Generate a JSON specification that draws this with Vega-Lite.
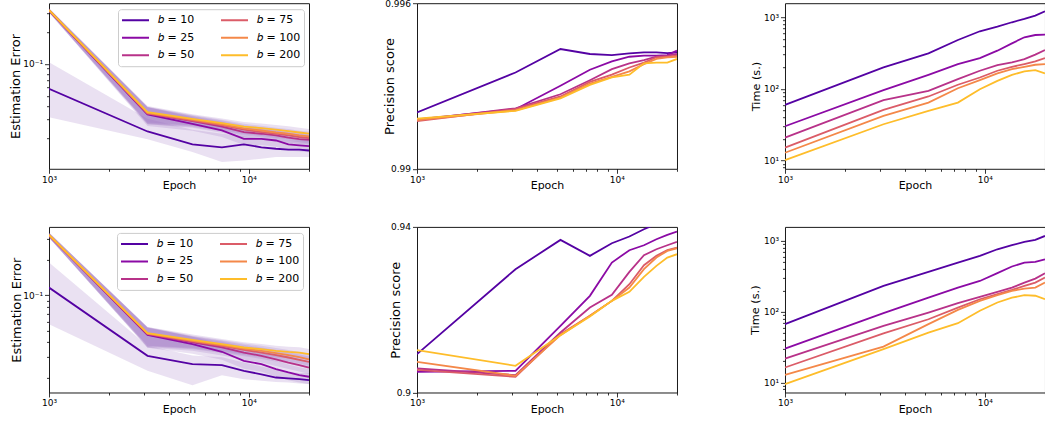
{
  "$schema": "https://vega.github.io/schema/vega-lite/v6.json",
  "padding": {"left": 9, "top": -1.8, "right": 0, "bottom": 0},
  "background": "white",
  "columns": 3,
  "spacing": {"row": 57.7, "column": 108},
  "bounds": "flush",
  "resolve": {"scale": {"color": "independent"}},
  "datasets": {
    "err1": [
      {"b":10,"e":1000,"v":0.0582,"lo":0.0315,"hi":0.1035},{"b":10,"e":3111,"v":0.0231,"lo":0.0195,"hi":0.0304},{"b":10,"e":5222,"v":0.0175,"lo":0.0148,"hi":0.024},{"b":10,"e":7333,"v":0.0164,"lo":0.0119,"hi":0.022},{"b":10,"e":9444,"v":0.0175,"lo":0.0123,"hi":0.021},{"b":10,"e":11556,"v":0.0164,"lo":0.0128,"hi":0.020},{"b":10,"e":13667,"v":0.0159,"lo":0.0133,"hi":0.0195},{"b":10,"e":15778,"v":0.0156,"lo":0.0133,"hi":0.019},{"b":10,"e":17889,"v":0.0156,"lo":0.0133,"hi":0.019},{"b":10,"e":20000,"v":0.0153,"lo":0.0133,"hi":0.019},
      {"b":25,"e":1000,"v":0.317,"lo":0.303,"hi":0.330},{"b":25,"e":3111,"v":0.0334,"lo":0.026,"hi":0.039},{"b":25,"e":5222,"v":0.0273,"lo":0.0235,"hi":0.0315},{"b":25,"e":7333,"v":0.0236,"lo":0.0205,"hi":0.027},{"b":25,"e":9444,"v":0.0197,"lo":0.0172,"hi":0.0225},{"b":25,"e":11556,"v":0.0197,"lo":0.0172,"hi":0.0222},{"b":25,"e":13667,"v":0.0190,"lo":0.0166,"hi":0.0214},{"b":25,"e":15778,"v":0.0175,"lo":0.0153,"hi":0.0198},{"b":25,"e":17889,"v":0.0171,"lo":0.0150,"hi":0.0193},{"b":25,"e":20000,"v":0.0168,"lo":0.0147,"hi":0.019},
      {"b":50,"e":1000,"v":0.317,"lo":0.303,"hi":0.330},{"b":50,"e":3111,"v":0.0339,"lo":0.027,"hi":0.039},{"b":50,"e":5222,"v":0.0289,"lo":0.025,"hi":0.0322},{"b":50,"e":7333,"v":0.0257,"lo":0.0225,"hi":0.0285},{"b":50,"e":9444,"v":0.0228,"lo":0.0203,"hi":0.0252},{"b":50,"e":11556,"v":0.0220,"lo":0.0196,"hi":0.0243},{"b":50,"e":13667,"v":0.0212,"lo":0.019,"hi":0.0235},{"b":50,"e":15778,"v":0.0202,"lo":0.0181,"hi":0.0224},{"b":50,"e":17889,"v":0.0196,"lo":0.0176,"hi":0.0218},{"b":50,"e":20000,"v":0.0193,"lo":0.0173,"hi":0.0214},
      {"b":75,"e":1000,"v":0.318,"lo":0.304,"hi":0.331},{"b":75,"e":3111,"v":0.0341,"lo":0.027,"hi":0.0392},{"b":75,"e":5222,"v":0.0293,"lo":0.0255,"hi":0.0325},{"b":75,"e":7333,"v":0.0265,"lo":0.0232,"hi":0.0293},{"b":75,"e":9444,"v":0.0240,"lo":0.0212,"hi":0.0265},{"b":75,"e":11556,"v":0.0228,"lo":0.0203,"hi":0.0252},{"b":75,"e":13667,"v":0.0220,"lo":0.0196,"hi":0.0243},{"b":75,"e":15778,"v":0.0212,"lo":0.0189,"hi":0.0235},{"b":75,"e":17889,"v":0.0205,"lo":0.0183,"hi":0.0227},{"b":75,"e":20000,"v":0.0200,"lo":0.0178,"hi":0.0222},
      {"b":100,"e":1000,"v":0.319,"lo":0.305,"hi":0.332},{"b":100,"e":3111,"v":0.0346,"lo":0.0275,"hi":0.0395},{"b":100,"e":5222,"v":0.0298,"lo":0.026,"hi":0.033},{"b":100,"e":7333,"v":0.0269,"lo":0.0237,"hi":0.0298},{"b":100,"e":9444,"v":0.0247,"lo":0.0219,"hi":0.0273},{"b":100,"e":11556,"v":0.0236,"lo":0.021,"hi":0.0261},{"b":100,"e":13667,"v":0.0226,"lo":0.0201,"hi":0.025},{"b":100,"e":15778,"v":0.0220,"lo":0.0196,"hi":0.0244},{"b":100,"e":17889,"v":0.0212,"lo":0.0189,"hi":0.0235},{"b":100,"e":20000,"v":0.0208,"lo":0.0185,"hi":0.0231},
      {"b":200,"e":1000,"v":0.320,"lo":0.306,"hi":0.333},{"b":200,"e":3111,"v":0.0351,"lo":0.028,"hi":0.040},{"b":200,"e":5222,"v":0.0304,"lo":0.0265,"hi":0.0336},{"b":200,"e":7333,"v":0.0277,"lo":0.0245,"hi":0.0306},{"b":200,"e":9444,"v":0.0257,"lo":0.0228,"hi":0.0284},{"b":200,"e":11556,"v":0.0248,"lo":0.022,"hi":0.0274},{"b":200,"e":13667,"v":0.0240,"lo":0.0213,"hi":0.0266},{"b":200,"e":15778,"v":0.0233,"lo":0.0207,"hi":0.0258},{"b":200,"e":17889,"v":0.0226,"lo":0.0201,"hi":0.025},{"b":200,"e":20000,"v":0.0220,"lo":0.0196,"hi":0.0244}
    ],
    "err2": [
      {"b":10,"e":1000,"v":0.116,"lo":0.0569,"hi":0.189},{"b":10,"e":3111,"v":0.0308,"lo":0.023,"hi":0.0374},{"b":10,"e":5222,"v":0.0262,"lo":0.0174,"hi":0.031},{"b":10,"e":7333,"v":0.0257,"lo":0.0211,"hi":0.030},{"b":10,"e":9444,"v":0.0230,"lo":0.0195,"hi":0.027},{"b":10,"e":11556,"v":0.0215,"lo":0.019,"hi":0.025},{"b":10,"e":13667,"v":0.0202,"lo":0.0185,"hi":0.0235},{"b":10,"e":15778,"v":0.0199,"lo":0.0183,"hi":0.0225},{"b":10,"e":17889,"v":0.0196,"lo":0.018,"hi":0.022},{"b":10,"e":20000,"v":0.0192,"lo":0.0178,"hi":0.022},
      {"b":25,"e":1000,"v":0.321,"lo":0.306,"hi":0.336},{"b":25,"e":3111,"v":0.0463,"lo":0.036,"hi":0.053},{"b":25,"e":5222,"v":0.0386,"lo":0.032,"hi":0.0445},{"b":25,"e":7333,"v":0.0333,"lo":0.0285,"hi":0.0385},{"b":25,"e":9444,"v":0.0279,"lo":0.024,"hi":0.0325},{"b":25,"e":11556,"v":0.0262,"lo":0.0226,"hi":0.0305},{"b":25,"e":13667,"v":0.0238,"lo":0.0205,"hi":0.0278},{"b":25,"e":15778,"v":0.0223,"lo":0.0192,"hi":0.026},{"b":25,"e":17889,"v":0.0212,"lo":0.0183,"hi":0.0247},{"b":25,"e":20000,"v":0.0205,"lo":0.0177,"hi":0.0238},
      {"b":50,"e":1000,"v":0.321,"lo":0.306,"hi":0.336},{"b":50,"e":3111,"v":0.0469,"lo":0.036,"hi":0.0533},{"b":50,"e":5222,"v":0.0399,"lo":0.034,"hi":0.0445},{"b":50,"e":7333,"v":0.0362,"lo":0.031,"hi":0.0405},{"b":50,"e":9444,"v":0.0328,"lo":0.0286,"hi":0.0368},{"b":50,"e":11556,"v":0.0308,"lo":0.027,"hi":0.0345},{"b":50,"e":13667,"v":0.0288,"lo":0.0253,"hi":0.0322},{"b":50,"e":15778,"v":0.0270,"lo":0.0238,"hi":0.0302},{"b":50,"e":17889,"v":0.0257,"lo":0.0227,"hi":0.0288},{"b":50,"e":20000,"v":0.0245,"lo":0.0216,"hi":0.0275},
      {"b":75,"e":1000,"v":0.321,"lo":0.306,"hi":0.336},{"b":75,"e":3111,"v":0.0472,"lo":0.0365,"hi":0.0535},{"b":75,"e":5222,"v":0.0407,"lo":0.035,"hi":0.045},{"b":75,"e":7333,"v":0.0373,"lo":0.0325,"hi":0.0412},{"b":75,"e":9444,"v":0.0346,"lo":0.0305,"hi":0.0382},{"b":75,"e":11556,"v":0.0328,"lo":0.029,"hi":0.0362},{"b":75,"e":13667,"v":0.0312,"lo":0.0276,"hi":0.0345},{"b":75,"e":15778,"v":0.0298,"lo":0.0264,"hi":0.033},{"b":75,"e":17889,"v":0.0285,"lo":0.0252,"hi":0.0316},{"b":75,"e":20000,"v":0.0274,"lo":0.0242,"hi":0.0304},
      {"b":100,"e":1000,"v":0.322,"lo":0.307,"hi":0.337},{"b":100,"e":3111,"v":0.0475,"lo":0.037,"hi":0.0538},{"b":100,"e":5222,"v":0.0412,"lo":0.0355,"hi":0.0455},{"b":100,"e":7333,"v":0.0379,"lo":0.033,"hi":0.0418},{"b":100,"e":9444,"v":0.0355,"lo":0.0313,"hi":0.0392},{"b":100,"e":11556,"v":0.0339,"lo":0.0299,"hi":0.0375},{"b":100,"e":13667,"v":0.0324,"lo":0.0286,"hi":0.0358},{"b":100,"e":15778,"v":0.0312,"lo":0.0276,"hi":0.0345},{"b":100,"e":17889,"v":0.0300,"lo":0.0265,"hi":0.0332},{"b":100,"e":20000,"v":0.0288,"lo":0.0254,"hi":0.0319},
      {"b":200,"e":1000,"v":0.323,"lo":0.308,"hi":0.338},{"b":200,"e":3111,"v":0.0478,"lo":0.0375,"hi":0.054},{"b":200,"e":5222,"v":0.0420,"lo":0.036,"hi":0.0465},{"b":200,"e":7333,"v":0.0386,"lo":0.0338,"hi":0.0427},{"b":200,"e":9444,"v":0.0362,"lo":0.032,"hi":0.04},{"b":200,"e":11556,"v":0.0350,"lo":0.031,"hi":0.0387},{"b":200,"e":13667,"v":0.0339,"lo":0.03,"hi":0.0375},{"b":200,"e":15778,"v":0.0332,"lo":0.0294,"hi":0.0367},{"b":200,"e":17889,"v":0.0328,"lo":0.029,"hi":0.0363},{"b":200,"e":20000,"v":0.0318,"lo":0.0281,"hi":0.0352}
    ],
    "prec1": [
      {"b":10,"e":1000,"v":0.99204},{"b":10,"e":3111,"v":0.99349},{"b":10,"e":5222,"v":0.99434},{"b":10,"e":7333,"v":0.99416},{"b":10,"e":9444,"v":0.99412},{"b":10,"e":11556,"v":0.99418},{"b":10,"e":13667,"v":0.99422},{"b":10,"e":15778,"v":0.99422},{"b":10,"e":17889,"v":0.99419},{"b":10,"e":20000,"v":0.99422},
      {"b":25,"e":1000,"v":0.99179},{"b":25,"e":3111,"v":0.99216},{"b":25,"e":5222,"v":0.99301},{"b":25,"e":7333,"v":0.99359},{"b":25,"e":9444,"v":0.99389},{"b":25,"e":11556,"v":0.99406},{"b":25,"e":13667,"v":0.9941},{"b":25,"e":15778,"v":0.9941},{"b":25,"e":17889,"v":0.99412},{"b":25,"e":20000,"v":0.99428},
      {"b":50,"e":1000,"v":0.99176},{"b":50,"e":3111,"v":0.99219},{"b":50,"e":5222,"v":0.9927},{"b":50,"e":7333,"v":0.99321},{"b":50,"e":9444,"v":0.99361},{"b":50,"e":11556,"v":0.99382},{"b":50,"e":13667,"v":0.99394},{"b":50,"e":15778,"v":0.99406},{"b":50,"e":17889,"v":0.9941},{"b":50,"e":20000,"v":0.99416},
      {"b":75,"e":1000,"v":0.99173},{"b":75,"e":3111,"v":0.99216},{"b":75,"e":5222,"v":0.99262},{"b":75,"e":7333,"v":0.99315},{"b":75,"e":9444,"v":0.99341},{"b":75,"e":11556,"v":0.99367},{"b":75,"e":13667,"v":0.99385},{"b":75,"e":15778,"v":0.99404},{"b":75,"e":17889,"v":0.99406},{"b":75,"e":20000,"v":0.9941},
      {"b":100,"e":1000,"v":0.99176},{"b":100,"e":3111,"v":0.99212},{"b":100,"e":5222,"v":0.99258},{"b":100,"e":7333,"v":0.99309},{"b":100,"e":9444,"v":0.99333},{"b":100,"e":11556,"v":0.99353},{"b":100,"e":13667,"v":0.99379},{"b":100,"e":15778,"v":0.99398},{"b":100,"e":17889,"v":0.99404},{"b":100,"e":20000,"v":0.99406},
      {"b":200,"e":1000,"v":0.99182},{"b":200,"e":3111,"v":0.9921},{"b":200,"e":5222,"v":0.99255},{"b":200,"e":7333,"v":0.99304},{"b":200,"e":9444,"v":0.99331},{"b":200,"e":11556,"v":0.99341},{"b":200,"e":13667,"v":0.99382},{"b":200,"e":15778,"v":0.99385},{"b":200,"e":17889,"v":0.99385},{"b":200,"e":20000,"v":0.99398}
    ],
    "prec2": [
      {"b":10,"e":1000,"v":0.90926},{"b":10,"e":3111,"v":0.92978},{"b":10,"e":5222,"v":0.93686},{"b":10,"e":7333,"v":0.933},{"b":10,"e":9444,"v":0.93606},{"b":10,"e":11556,"v":0.93767},{"b":10,"e":13667,"v":0.93944},{"b":10,"e":15778,"v":0.9407},{"b":10,"e":17889,"v":0.9415},{"b":10,"e":20000,"v":0.9422},
      {"b":25,"e":1000,"v":0.90499},{"b":25,"e":3111,"v":0.90523},{"b":25,"e":5222,"v":0.9161},{"b":25,"e":7333,"v":0.92334},{"b":25,"e":9444,"v":0.93139},{"b":25,"e":11556,"v":0.93437},{"b":25,"e":13667,"v":0.93557},{"b":25,"e":15778,"v":0.93702},{"b":25,"e":17889,"v":0.93807},{"b":25,"e":20000,"v":0.93887},
      {"b":50,"e":1000,"v":0.9058},{"b":50,"e":3111,"v":0.90419},{"b":50,"e":5222,"v":0.91449},{"b":50,"e":7333,"v":0.92052},{"b":50,"e":9444,"v":0.92358},{"b":50,"e":11556,"v":0.92913},{"b":50,"e":13667,"v":0.93316},{"b":50,"e":15778,"v":0.93461},{"b":50,"e":17889,"v":0.93557},{"b":50,"e":20000,"v":0.93638},
      {"b":75,"e":1000,"v":0.90547},{"b":75,"e":3111,"v":0.90378},{"b":75,"e":5222,"v":0.91408},{"b":75,"e":7333,"v":0.91851},{"b":75,"e":9444,"v":0.92213},{"b":75,"e":11556,"v":0.92616},{"b":75,"e":13667,"v":0.93074},{"b":75,"e":15778,"v":0.933},{"b":75,"e":17889,"v":0.93437},{"b":75,"e":20000,"v":0.93501},
      {"b":100,"e":1000,"v":0.90741},{"b":100,"e":3111,"v":0.90403},{"b":100,"e":5222,"v":0.91384},{"b":100,"e":7333,"v":0.91851},{"b":100,"e":9444,"v":0.92213},{"b":100,"e":11556,"v":0.92535},{"b":100,"e":13667,"v":0.92978},{"b":100,"e":15778,"v":0.9326},{"b":100,"e":17889,"v":0.93421},{"b":100,"e":20000,"v":0.93485},
      {"b":200,"e":1000,"v":0.91022},{"b":200,"e":3111,"v":0.90644},{"b":200,"e":5222,"v":0.91384},{"b":200,"e":7333,"v":0.91835},{"b":200,"e":9444,"v":0.92213},{"b":200,"e":11556,"v":0.92431},{"b":200,"e":13667,"v":0.92793},{"b":200,"e":15778,"v":0.93058},{"b":200,"e":17889,"v":0.9326},{"b":200,"e":20000,"v":0.9334}
    ],
    "time1": [
      {"b":10,"e":1000,"v":59.7},{"b":10,"e":3111,"v":199},{"b":10,"e":5222,"v":313},{"b":10,"e":7333,"v":481},{"b":10,"e":9444,"v":637},{"b":10,"e":11556,"v":740},{"b":10,"e":13667,"v":851},{"b":10,"e":15778,"v":948},{"b":10,"e":17889,"v":1055},{"b":10,"e":20000,"v":1214},
      {"b":25,"e":1000,"v":30.0},{"b":25,"e":3111,"v":95.7},{"b":25,"e":5222,"v":157},{"b":25,"e":7333,"v":222},{"b":25,"e":9444,"v":269},{"b":25,"e":11556,"v":341},{"b":25,"e":13667,"v":432},{"b":25,"e":15778,"v":525},{"b":25,"e":17889,"v":565},{"b":25,"e":20000,"v":571},
      {"b":50,"e":1000,"v":20.8},{"b":50,"e":3111,"v":69.3},{"b":50,"e":5222,"v":93.8},{"b":50,"e":7333,"v":137},{"b":50,"e":9444,"v":179},{"b":50,"e":11556,"v":215},{"b":50,"e":13667,"v":234},{"b":50,"e":15778,"v":260},{"b":50,"e":17889,"v":300},{"b":50,"e":20000,"v":348},
      {"b":75,"e":1000,"v":15.1},{"b":75,"e":3111,"v":50.8},{"b":75,"e":5222,"v":78.2},{"b":75,"e":7333,"v":114},{"b":75,"e":9444,"v":144},{"b":75,"e":11556,"v":179},{"b":75,"e":13667,"v":203},{"b":75,"e":15778,"v":222},{"b":75,"e":17889,"v":242},{"b":75,"e":20000,"v":269},
      {"b":100,"e":1000,"v":12.8},{"b":100,"e":3111,"v":41.8},{"b":100,"e":5222,"v":64.3},{"b":100,"e":7333,"v":102},{"b":100,"e":9444,"v":132},{"b":100,"e":11556,"v":164},{"b":100,"e":13667,"v":189},{"b":100,"e":15778,"v":203},{"b":100,"e":17889,"v":217},{"b":100,"e":20000,"v":222},
      {"b":200,"e":1000,"v":10.1},{"b":200,"e":3111,"v":32.0},{"b":200,"e":5222,"v":49.2},{"b":200,"e":7333,"v":64.3},{"b":200,"e":9444,"v":98.8},{"b":200,"e":11556,"v":129},{"b":200,"e":13667,"v":157},{"b":200,"e":15778,"v":175},{"b":200,"e":17889,"v":183},{"b":200,"e":20000,"v":164}
    ],
    "time2": [
      {"b":10,"e":1000,"v":66.7},{"b":10,"e":3111,"v":232},{"b":10,"e":5222,"v":365},{"b":10,"e":7333,"v":494},{"b":10,"e":9444,"v":614},{"b":10,"e":11556,"v":762},{"b":10,"e":13667,"v":869},{"b":10,"e":15778,"v":968},{"b":10,"e":17889,"v":1033},{"b":10,"e":20000,"v":1177},
      {"b":25,"e":1000,"v":30.2},{"b":25,"e":3111,"v":95.3},{"b":25,"e":5222,"v":158},{"b":25,"e":7333,"v":219},{"b":25,"e":9444,"v":272},{"b":25,"e":11556,"v":350},{"b":25,"e":13667,"v":435},{"b":25,"e":15778,"v":494},{"b":25,"e":17889,"v":505},{"b":25,"e":20000,"v":551},
      {"b":50,"e":1000,"v":21.8},{"b":50,"e":3111,"v":63.1},{"b":50,"e":5222,"v":97.3},{"b":50,"e":7333,"v":132},{"b":50,"e":9444,"v":162},{"b":50,"e":11556,"v":191},{"b":50,"e":13667,"v":219},{"b":50,"e":15778,"v":258},{"b":50,"e":17889,"v":294},{"b":50,"e":20000,"v":350},
      {"b":75,"e":1000,"v":16.3},{"b":75,"e":3111,"v":49.6},{"b":75,"e":5222,"v":78.3},{"b":75,"e":7333,"v":114},{"b":75,"e":9444,"v":150},{"b":75,"e":11556,"v":177},{"b":75,"e":13667,"v":203},{"b":75,"e":15778,"v":232},{"b":75,"e":17889,"v":258},{"b":75,"e":20000,"v":304},
      {"b":100,"e":1000,"v":12.8},{"b":100,"e":3111,"v":32.2},{"b":100,"e":5222,"v":66.7},{"b":100,"e":7333,"v":106},{"b":100,"e":9444,"v":142},{"b":100,"e":11556,"v":171},{"b":100,"e":13667,"v":197},{"b":100,"e":15778,"v":212},{"b":100,"e":17889,"v":219},{"b":100,"e":20000,"v":258},
      {"b":200,"e":1000,"v":9.46},{"b":200,"e":3111,"v":29.6},{"b":200,"e":5222,"v":50.8},{"b":200,"e":7333,"v":68.9},{"b":200,"e":9444,"v":103},{"b":200,"e":11556,"v":135},{"b":200,"e":13667,"v":158},{"b":200,"e":15778,"v":171},{"b":200,"e":17889,"v":168},{"b":200,"e":20000,"v":150}
    ]
  },
  "concat": [
    {
      "width": 260, "height": 165.6,
      "data": {"name": "err1"},
      "layer": [
        {"mark": {"type": "area", "clip": true, "color": "#9467bd", "opacity": 0.2},
         "encoding": {
           "x": {"field": "e", "type": "quantitative", "scale": {"type": "log", "domain": [1000, 20000], "nice": false},
                 "axis": {"title": "Epoch", "titleFontSize": 11, "titleY": 20, "titleBaseline": "alphabetic", "values": [1000,2000,3000,4000,5000,6000,7000,8000,9000,10000,20000], "labelExpr": "datum.value == 1000 ? '10³' : (datum.value == 10000 ? '10⁴' : '')", "tickSize": {"condition": {"test": "datum.value == 1000 || datum.value == 10000", "value": 4.5}, "value": 2.5}}},
           "y": {"field": "lo", "type": "quantitative", "scale": {"type": "log", "domain": [0.0103, 0.371], "nice": false},
                 "axis": {"title": "Estimation Error", "titleFontSize": 13, "titleX": -29.3, "titleBaseline": "alphabetic", "values": [0.02,0.03,0.04,0.05,0.06,0.07,0.08,0.09,0.1,0.2,0.3], "labelExpr": "datum.value == 0.1 ? '10⁻¹' : ''", "tickSize": {"condition": {"test": "datum.value == 0.1", "value": 4.5}, "value": 2.5}}},
           "y2": {"field": "hi"},
           "detail": {"field": "b", "type": "nominal"}
         }},
        {"mark": {"type": "line", "clip": true, "strokeWidth": 1.8},
         "encoding": {
           "x": {"field": "e", "type": "quantitative"},
           "y": {"field": "v", "type": "quantitative"},
           "color": {"field": "b", "type": "nominal", "scale": {"domain": [10,25,50,75,100,200], "range": ["#5402a3","#8b0aa5","#b83289","#db5c68","#f48849","#febd2a"]},
                     "legend": {"labelExpr": "'𝑏 = ' + datum.label"}}
         }}
      ]
    },
    {
      "width": 260, "height": 165.6,
      "data": {"name": "prec1"},
      "mark": {"type": "line", "clip": true, "strokeWidth": 1.8},
      "encoding": {
        "x": {"field": "e", "type": "quantitative", "scale": {"type": "log", "domain": [1000, 20000], "nice": false},
              "axis": {"title": "Epoch", "titleFontSize": 11, "titleY": 20, "titleBaseline": "alphabetic", "values": [1000,2000,3000,4000,5000,6000,7000,8000,9000,10000,20000], "labelExpr": "datum.value == 1000 ? '10³' : (datum.value == 10000 ? '10⁴' : '')", "tickSize": {"condition": {"test": "datum.value == 1000 || datum.value == 10000", "value": 4.5}, "value": 2.5}}},
        "y": {"field": "v", "type": "quantitative", "scale": {"domain": [0.99, 0.996], "nice": false, "zero": false},
              "axis": {"title": "Precision score", "titleFontSize": 13, "titleX": -24, "titleBaseline": "alphabetic", "values": [0.99, 0.996], "format": ".3~f", "tickSize": 4.5}},
        "color": {"field": "b", "type": "nominal", "scale": {"domain": [10,25,50,75,100,200], "range": ["#5402a3","#8b0aa5","#b83289","#db5c68","#f48849","#febd2a"]}, "legend": null}
      }
    },
    {
      "width": 260, "height": 165.6,
      "data": {"name": "time1"},
      "mark": {"type": "line", "clip": true, "strokeWidth": 1.8},
      "encoding": {
        "x": {"field": "e", "type": "quantitative", "scale": {"type": "log", "domain": [1000, 20000], "nice": false},
              "axis": {"title": "Epoch", "titleFontSize": 11, "titleY": 20, "titleBaseline": "alphabetic", "values": [1000,2000,3000,4000,5000,6000,7000,8000,9000,10000,20000], "labelExpr": "datum.value == 1000 ? '10³' : (datum.value == 10000 ? '10⁴' : '')", "tickSize": {"condition": {"test": "datum.value == 1000 || datum.value == 10000", "value": 4.5}, "value": 2.5}}},
        "y": {"field": "v", "type": "quantitative", "scale": {"type": "log", "domain": [7.64, 1571], "nice": false},
              "axis": {"title": "Time (s.)", "titleFontSize": 11.3, "titleX": -25, "titleBaseline": "alphabetic", "values": [8,9,10,20,30,40,50,60,70,80,90,100,200,300,400,500,600,700,800,900,1000], "labelExpr": "datum.value == 10 ? '10¹' : (datum.value == 100 ? '10²' : (datum.value == 1000 ? '10³' : ''))", "tickSize": {"condition": {"test": "datum.value == 10 || datum.value == 100 || datum.value == 1000", "value": 4.5}, "value": 2.5}}},
        "color": {"field": "b", "type": "nominal", "scale": {"domain": [10,25,50,75,100,200], "range": ["#5402a3","#8b0aa5","#b83289","#db5c68","#f48849","#febd2a"]}, "legend": null}
      }
    },
    {
      "width": 260, "height": 165.6,
      "data": {"name": "err2"},
      "layer": [
        {"mark": {"type": "area", "clip": true, "color": "#9467bd", "opacity": 0.2},
         "encoding": {
           "x": {"field": "e", "type": "quantitative", "scale": {"type": "log", "domain": [1000, 20000], "nice": false},
                 "axis": {"title": "Epoch", "titleFontSize": 11, "titleY": 20, "titleBaseline": "alphabetic", "values": [1000,2000,3000,4000,5000,6000,7000,8000,9000,10000,20000], "labelExpr": "datum.value == 1000 ? '10³' : (datum.value == 10000 ? '10⁴' : '')", "tickSize": {"condition": {"test": "datum.value == 1000 || datum.value == 10000", "value": 4.5}, "value": 2.5}}},
           "y": {"field": "lo", "type": "quantitative", "scale": {"type": "log", "domain": [0.0151, 0.377], "nice": false},
                 "axis": {"title": "Estimation Error", "titleFontSize": 13, "titleX": -28.6, "titleBaseline": "alphabetic", "values": [0.02,0.03,0.04,0.05,0.06,0.07,0.08,0.09,0.1,0.2,0.3], "labelExpr": "datum.value == 0.1 ? '10⁻¹' : ''", "tickSize": {"condition": {"test": "datum.value == 0.1", "value": 4.5}, "value": 2.5}}},
           "y2": {"field": "hi"},
           "detail": {"field": "b", "type": "nominal"}
         }},
        {"mark": {"type": "line", "clip": true, "strokeWidth": 1.8},
         "encoding": {
           "x": {"field": "e", "type": "quantitative"},
           "y": {"field": "v", "type": "quantitative"},
           "color": {"field": "b", "type": "nominal", "scale": {"domain": [10,25,50,75,100,200], "range": ["#5402a3","#8b0aa5","#b83289","#db5c68","#f48849","#febd2a"]},
                     "legend": {"labelExpr": "'𝑏 = ' + datum.label", "offset": 6}}
         }}
      ]
    },
    {
      "width": 260, "height": 165.6,
      "data": {"name": "prec2"},
      "mark": {"type": "line", "clip": true, "strokeWidth": 1.8},
      "encoding": {
        "x": {"field": "e", "type": "quantitative", "scale": {"type": "log", "domain": [1000, 20000], "nice": false},
              "axis": {"title": "Epoch", "titleFontSize": 11, "titleY": 20, "titleBaseline": "alphabetic", "values": [1000,2000,3000,4000,5000,6000,7000,8000,9000,10000,20000], "labelExpr": "datum.value == 1000 ? '10³' : (datum.value == 10000 ? '10⁴' : '')", "tickSize": {"condition": {"test": "datum.value == 1000 || datum.value == 10000", "value": 4.5}, "value": 2.5}}},
        "y": {"field": "v", "type": "quantitative", "scale": {"domain": [0.9, 0.94], "nice": false, "zero": false},
              "axis": {"title": "Precision score", "titleFontSize": 13, "titleX": -18, "titleBaseline": "alphabetic", "values": [0.9, 0.94], "format": ".3~f", "tickSize": 4.5}},
        "color": {"field": "b", "type": "nominal", "scale": {"domain": [10,25,50,75,100,200], "range": ["#5402a3","#8b0aa5","#b83289","#db5c68","#f48849","#febd2a"]}, "legend": null}
      }
    },
    {
      "width": 260, "height": 165.6,
      "data": {"name": "time2"},
      "mark": {"type": "line", "clip": true, "strokeWidth": 1.8},
      "encoding": {
        "x": {"field": "e", "type": "quantitative", "scale": {"type": "log", "domain": [1000, 20000], "nice": false},
              "axis": {"title": "Epoch", "titleFontSize": 11, "titleY": 20, "titleBaseline": "alphabetic", "values": [1000,2000,3000,4000,5000,6000,7000,8000,9000,10000,20000], "labelExpr": "datum.value == 1000 ? '10³' : (datum.value == 10000 ? '10⁴' : '')", "tickSize": {"condition": {"test": "datum.value == 1000 || datum.value == 10000", "value": 4.5}, "value": 2.5}}},
        "y": {"field": "v", "type": "quantitative", "scale": {"type": "log", "domain": [7.23, 1578], "nice": false},
              "axis": {"title": "Time (s.)", "titleFontSize": 11.3, "titleX": -26, "titleBaseline": "alphabetic", "values": [8,9,10,20,30,40,50,60,70,80,90,100,200,300,400,500,600,700,800,900,1000], "labelExpr": "datum.value == 10 ? '10¹' : (datum.value == 100 ? '10²' : (datum.value == 1000 ? '10³' : ''))", "tickSize": {"condition": {"test": "datum.value == 10 || datum.value == 100 || datum.value == 1000", "value": 4.5}, "value": 2.5}}},
        "color": {"field": "b", "type": "nominal", "scale": {"domain": [10,25,50,75,100,200], "range": ["#5402a3","#8b0aa5","#b83289","#db5c68","#f48849","#febd2a"]}, "legend": null}
      }
    }
  ],
  "config": {
    "font": "DejaVu Sans",
    "view": {"stroke": "#1a1a1a", "strokeWidth": 1},
    "axis": {"domain": false, "grid": false, "tickColor": "#000", "tickWidth": 0.8, "labelFont": "DejaVu Sans", "labelFontSize": 9, "labelColor": "#000", "labelPadding": 2, "labelFlush": false, "labelOverlap": false, "labelBound": false, "titleFont": "DejaVu Sans", "titleFontWeight": "normal", "titleColor": "#000"},
    "legend": {"orient": "top-right", "offset": 5.5, "columns": 2, "title": null, "symbolType": "stroke", "symbolSize": 729, "symbolStrokeWidth": 2, "labelFont": "DejaVu Sans", "labelFontSize": 11, "labelColor": "#000", "labelOffset": 8, "clipHeight": 16, "rowPadding": 1.5, "columnPadding": 25, "padding": 3, "strokeColor": "#cccccc", "fillColor": "rgba(255,255,255,0.8)", "cornerRadius": 3}
  }
}
